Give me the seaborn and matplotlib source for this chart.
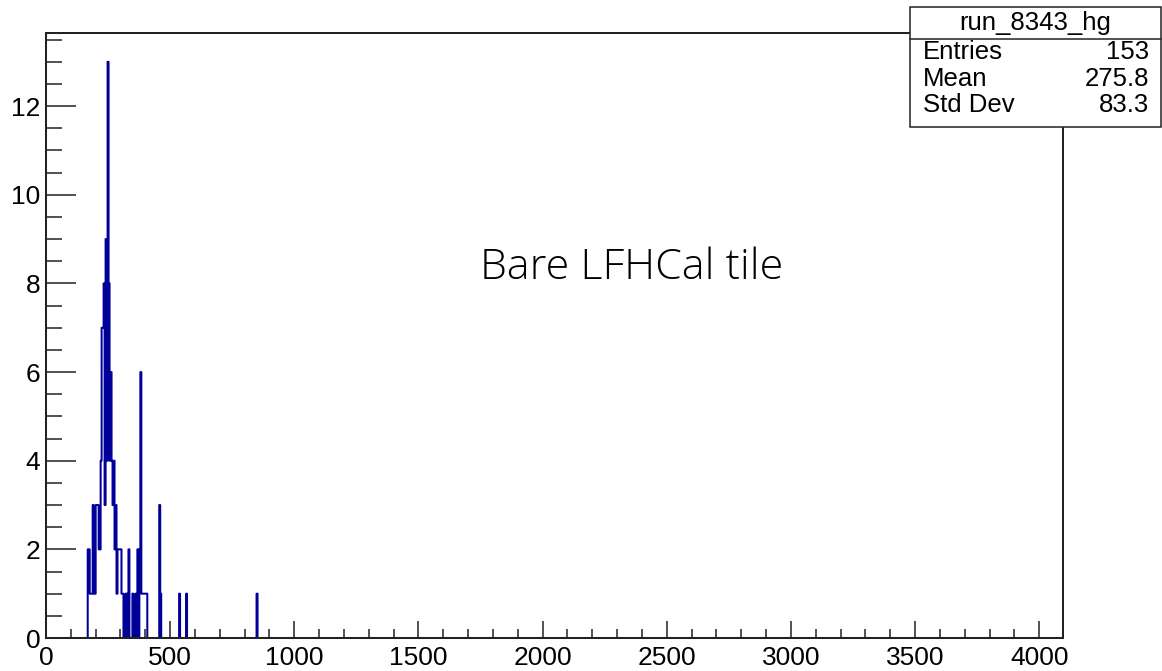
import numpy as np
import pandas as pd
import matplotlib
matplotlib.use("Agg")
import matplotlib.pyplot as plt
from matplotlib.patches import Rectangle
from matplotlib.lines import Line2D
from matplotlib.ticker import MultipleLocator
import seaborn as sns

# low edge of each 4-channel ADC bin and its content
bin_low = [168, 172, 176, 180, 184, 188, 192, 196, 200, 204, 208, 212,
           216, 220, 224, 228, 232, 236, 240, 244, 248,
           252, 256, 260, 264, 268, 272, 276, 280, 284, 288, 292, 296, 300,
           304, 308, 320, 328, 332, 348, 360, 368, 376, 380, 384, 388, 392,
           396, 400, 404,
           456, 460, 536, 564, 848]
counts = [2, 2, 1, 1, 1, 3, 1, 1, 3, 3, 3, 2,
          2, 4, 7, 7, 8, 3, 9, 4, 13,
          8, 4, 6, 4, 3, 4, 2, 3, 1, 2, 2, 2, 2,
          1, 1, 1, 1, 2, 1, 1, 2, 2, 6, 1, 1, 1,
          1, 1, 1,
          3, 1, 1, 1, 1]

hist_name = "run_8343_hg"
stat_labels = ["Entries", "Mean", "Std Dev"]
stat_values = ["153", "275.8", "83.3"]
annotation = "Bare LFHCal tile"

bin_width = 4
x_max = 4096

df = pd.DataFrame({"adc": np.array(bin_low) + bin_width / 2, "n": counts})

sns.set_theme(style="ticks")
plt.rcParams["font.family"] = ["Liberation Sans", "DejaVu Sans"]

W, H = 1162, 671
fig = plt.figure(figsize=(W / 100, H / 100), dpi=100)
fig.patch.set_facecolor("white")
ax = fig.add_axes([46 / W, 1 - 638 / H, (1063 - 46) / W, (638 - 33) / H])

sns.histplot(data=df, x="adc", weights="n",
             binwidth=bin_width, binrange=(0, x_max),
             element="step", fill=False, color="#000099",
             linewidth=1.45, ax=ax)

ax.set_xlim(0, x_max)
ax.set_ylim(0, 13 * 1.05)
ax.set_xlabel("")
ax.set_ylabel("")
ax.xaxis.set_major_locator(MultipleLocator(500))
ax.xaxis.set_minor_locator(MultipleLocator(100))
ax.yaxis.set_major_locator(MultipleLocator(2))
ax.yaxis.set_minor_locator(MultipleLocator(0.5))

for side in ["top", "bottom", "left", "right"]:
    ax.spines[side].set_visible(True)
    ax.spines[side].set_color("#222222")
    ax.spines[side].set_linewidth(1.45)
    ax.spines[side].set_zorder(3)

ax.tick_params(axis="x", which="major", direction="in", length=12.2, width=1.1,
               color="#222222", labelsize=19, labelcolor="black", pad=5.5, top=False)
ax.tick_params(axis="x", which="minor", direction="in", length=6.5, width=1.1,
               color="#222222", top=False)
ax.tick_params(axis="y", which="major", direction="in", length=21.6, width=1.1,
               color="#222222", labelsize=19, labelcolor="black", pad=4.0, right=False)
ax.tick_params(axis="y", which="minor", direction="in", length=11.3, width=1.1,
               color="#222222", right=False)
ax.set_facecolor("white")

# annotation in the middle of the pad
fig.text(632 / W, 1 - 268 / H, annotation, ha="center", va="center",
         fontsize=31, family=["Open Sans", "DejaVu Sans"], fontweight="light",
         color="black")

# ROOT-style statistics box
bx0, bx1, by0, by1, ysep = 910, 1161, 7, 127, 39
fig.add_artist(Rectangle((bx0 / W, 1 - by1 / H), (bx1 - bx0) / W, (by1 - by0) / H,
                         transform=fig.transFigure, facecolor="white",
                         edgecolor="#222222", linewidth=1.1, zorder=5))
fig.add_artist(Line2D([bx0 / W, bx1 / W], [1 - ysep / H, 1 - ysep / H],
                      transform=fig.transFigure, color="#222222", linewidth=1.1,
                      zorder=6))
fig.text((bx0 + bx1) / 2 / W, 1 - 23 / H, hist_name, ha="center", va="center",
         fontsize=18.5, color="black", zorder=7)
for i, (lab, val) in enumerate(zip(stat_labels, stat_values)):
    yy = 1 - (52 + 26.5 * i) / H
    fig.text(923 / W, yy, lab, ha="left", va="center", fontsize=18.5,
             color="black", zorder=7)
    fig.text(1149 / W, yy, val, ha="right", va="center", fontsize=18.5,
             color="black", zorder=7)

fig.savefig("out.png", dpi=100, facecolor="white")
